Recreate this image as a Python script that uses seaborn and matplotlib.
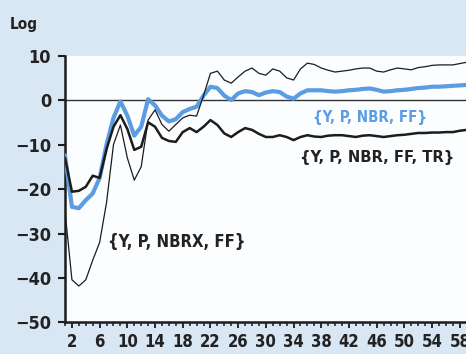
import numpy as np
import pandas as pd
import seaborn as sns
import matplotlib
matplotlib.use("Agg")
import matplotlib.pyplot as plt
from matplotlib.ticker import MultipleLocator, FixedLocator

# Period index (1..60)
periods = list(range(1, 61))

# {Y, P, NBR, FF}
base_ff = [-12.4, -24.0, -24.3, -22.5, -21.0, -17.5, -10.0, -4.0, -0.3, -3.5,
           -8.0, -6.0, 0.2, -1.2, -3.5, -4.8, -4.3, -2.7, -2.0, -1.5,
           1.0, 3.0, 2.7, 1.0, 0.0, 1.5, 2.0, 1.8, 1.1, 1.7,
           2.0, 1.8, 0.8, 0.3, 1.5, 2.2, 2.2, 2.2, 2.0, 1.9,
           2.0, 2.2, 2.3, 2.5, 2.6, 2.3, 1.9, 2.0, 2.2, 2.3,
           2.5, 2.7, 2.8, 3.0, 3.0, 3.1, 3.2, 3.3, 3.4, 3.5]

# {Y, P, NBR, FF, TR}
with_tr = [-13.0, -20.6, -20.4, -19.5, -17.0, -17.5, -11.0, -6.0, -3.4, -6.5,
           -11.2, -10.5, -5.0, -6.0, -8.5, -9.2, -9.4, -7.2, -6.3, -7.2,
           -6.0, -4.5, -5.6, -7.5, -8.3, -7.2, -6.3, -6.7, -7.6, -8.3,
           -8.3, -7.9, -8.3, -9.0, -8.3, -7.9, -8.2, -8.3, -8.0, -7.9,
           -7.9, -8.1, -8.3, -8.0, -7.9, -8.1, -8.3, -8.1, -7.9, -7.8,
           -7.6, -7.4, -7.4, -7.3, -7.3, -7.2, -7.2, -6.9, -6.7, -6.6]

# {Y, P, NBRX, FF}
nbrx_ff = [-25.0, -40.4, -41.8, -40.4, -36.0, -32.0, -23.0, -10.0, -5.6, -13.0,
           -18.0, -15.0, -4.5, -2.2, -5.5, -7.0, -5.5, -4.0, -3.4, -3.6,
           1.0, 6.0, 6.5, 4.5, 3.8, 5.2, 6.5, 7.2, 6.0, 5.6,
           7.0, 6.5, 5.0, 4.5, 7.0, 8.3, 8.0, 7.2, 6.7, 6.3,
           6.5, 6.7, 7.0, 7.2, 7.2, 6.5, 6.3, 6.8, 7.2, 7.0,
           6.8, 7.3, 7.5, 7.8, 7.9, 7.9, 7.9, 8.2, 8.5, 8.6]

series_names = ["{Y, P, NBR, FF}", "{Y, P, NBR, FF, TR}", "{Y, P, NBRX, FF}"]
y_ticks = [10, 0, -10, -20, -30, -40, -50]
x_tick_labels = list(range(2, 59, 4))

df = pd.DataFrame({
    "period": periods * 3,
    "log": base_ff + with_tr + nbrx_ff,
    "spec": np.repeat(series_names, len(periods)),
})

sns.set_style("ticks")
plt.rcParams["font.family"] = ["DejaVu Sans"]
plt.rcParams["font.stretch"] = "condensed"
plt.rcParams["font.weight"] = "bold"

BLUE = "#5b9de2"
INK = "#1c1c1c"
BG = "#d9e7f4"

fig = plt.figure(figsize=(4.66, 3.54), dpi=100, facecolor=BG)
ax = fig.add_axes([0.1395, 0.089, 0.8605, 0.754])
ax.set_facecolor("#fbfdff")

# zero reference line
ax.axhline(0, color="#333333", lw=1.0, zorder=1)

palette = {series_names[0]: BLUE, series_names[1]: INK, series_names[2]: INK}
sizes = {series_names[0]: 3.0, series_names[1]: 1.8, series_names[2]: 0.9}
sns.lineplot(data=df, x="period", y="log", hue="spec", size="spec",
             palette=palette, sizes=sizes, legend=False, ax=ax, zorder=3)

ax.set_xlim(1, 58.9)
ax.set_ylim(-50, 10)
ax.set_xlabel("")
ax.set_ylabel("")

ax.yaxis.set_major_locator(FixedLocator(y_ticks))
ax.xaxis.set_major_locator(FixedLocator(x_tick_labels))
ax.xaxis.set_minor_locator(MultipleLocator(1))

for side in ("top", "right"):
    ax.spines[side].set_visible(False)
for side in ("left", "bottom"):
    ax.spines[side].set_linewidth(1.8)
    ax.spines[side].set_color(INK)

ax.tick_params(axis="y", direction="out", length=5, width=1.5, colors=INK,
               labelsize=13, pad=5)
ax.tick_params(axis="x", which="major", direction="out", length=4.5, width=1.3,
               colors=INK, labelsize=12, pad=3)
ax.tick_params(axis="x", which="minor", direction="out", length=3, width=1.1,
               colors=INK)
ax.set_yticklabels(["10", "0", "\u221210", "\u221220", "\u221230", "\u221240", "\u221250"])
for lab in ax.get_xticklabels() + ax.get_yticklabels():
    lab.set_fontweight("bold")
    lab.set_color("#222222")

fig.text(0.02, 0.93, "Log", fontsize=11, fontweight="bold", color="#222222",
         va="center", ha="left")

ax.text(36.8, -4.0, series_names[0], color=BLUE, fontsize=10.8, fontweight="bold",
        va="center", ha="left")
ax.text(34.9, -13.0, series_names[1], color="#222222", fontsize=11.8, fontweight="bold",
        va="center", ha="left")
ax.text(7.2, -31.9, series_names[2], color="#222222", fontsize=12, fontweight="bold",
        va="center", ha="left")

fig.savefig("out.png", dpi=100, facecolor=BG)
